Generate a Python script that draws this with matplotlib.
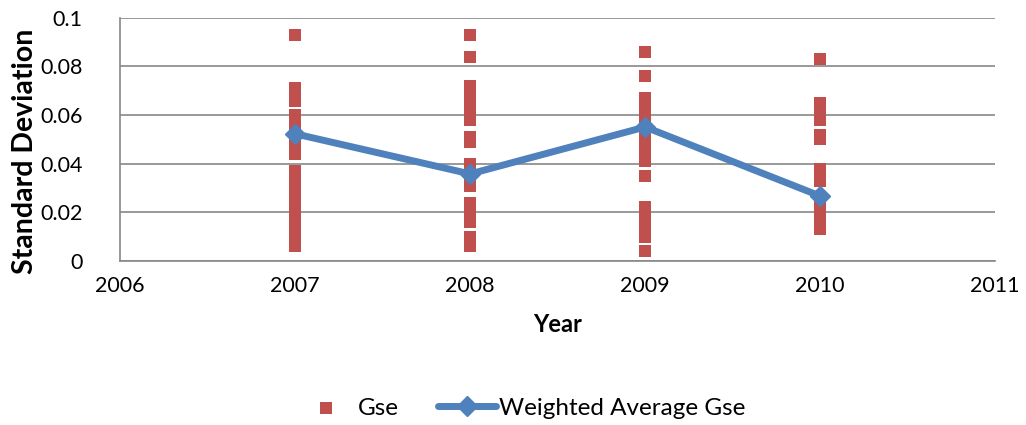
import matplotlib.pyplot as plt

plt.rcParams['font.family'] = ['Lato', 'DejaVu Sans']

# Gse values per year
gse_2007 = [0.093, 0.071, 0.069, 0.066, 0.060, 0.058, 0.056, 0.054, 0.050, 0.047,
            0.044, 0.037, 0.035, 0.033, 0.030, 0.027, 0.025, 0.022, 0.020, 0.018,
            0.015, 0.012, 0.010, 0.008, 0.006]
gse_2008 = [0.093, 0.084, 0.072, 0.069, 0.066, 0.064, 0.062, 0.060, 0.058, 0.051,
            0.049, 0.040, 0.037, 0.035, 0.033, 0.031, 0.024, 0.022, 0.020, 0.018,
            0.016, 0.010, 0.008, 0.006]
gse_2009 = [0.086, 0.076, 0.067, 0.064, 0.062, 0.060, 0.056, 0.053, 0.050, 0.048,
            0.046, 0.043, 0.041, 0.035, 0.022, 0.020, 0.017, 0.015, 0.012, 0.010,
            0.004]
gse_2010 = [0.083, 0.065, 0.062, 0.060, 0.058, 0.052, 0.050, 0.038, 0.036, 0.033,
            0.024, 0.021, 0.019, 0.016, 0.013]

years = [2007, 2008, 2009, 2010]
weighted_avg = [0.0523, 0.0358, 0.0551, 0.0267]

fig = plt.figure(figsize=(10.26, 4.25), dpi=100)
ax = fig.add_axes([0.117, 0.386, 0.853, 0.572])

xs, ys = [], []
for yr, vals in zip(years, [gse_2007, gse_2008, gse_2009, gse_2010]):
    xs += [yr] * len(vals)
    ys += vals

ax.scatter(xs, ys, marker='s', s=66, color='#C0504D', linewidths=0, zorder=3, label='Gse')
ax.plot(years, weighted_avg, color='#4F81BD', linewidth=5, marker='D', markersize=10,
        zorder=4, label='Weighted Average Gse', solid_joinstyle='round', solid_capstyle='round')

ax.set_xlim(2006, 2011)
ax.set_ylim(0, 0.1)
ax.set_xticks([2006, 2007, 2008, 2009, 2010, 2011])
ax.set_yticks([0, 0.02, 0.04, 0.06, 0.08, 0.1])
ax.set_yticklabels(['0', '0.02', '0.04', '0.06', '0.08', '0.1'])
ax.tick_params(length=0, labelsize=15.5)
ax.tick_params(axis='y', pad=27)
ax.tick_params(axis='x', pad=11)
ax.grid(axis='y', color='#888888', linewidth=1.2)
ax.set_axisbelow(True)
for side in ['top', 'right']:
    ax.spines[side].set_visible(False)
for side in ['left', 'bottom']:
    ax.spines[side].set_color('#888888')
    ax.spines[side].set_linewidth(1.2)

ax.set_xlabel('Year', fontsize=17, fontweight='bold', labelpad=12)
ax.set_ylabel('Standard Deviation', fontsize=20.5, fontweight='bold')
ax.yaxis.set_label_coords(-0.094, 0.45)

fig.legend(loc='center', bbox_to_anchor=(0.508, 0.04), ncol=2, frameon=False, fontsize=17.5,
           handlelength=2.4, handletextpad=0.1, columnspacing=1.6)

fig.savefig('out.png', dpi=100)
